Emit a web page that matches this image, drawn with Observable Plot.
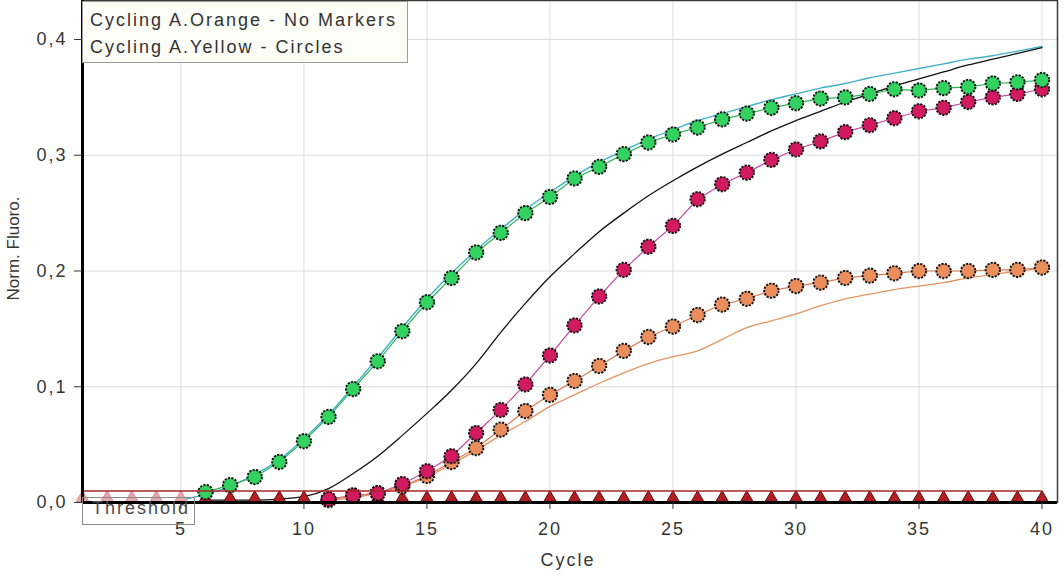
<!DOCTYPE html>
<html>
<head>
<meta charset="utf-8">
<script src="https://cdn.jsdelivr.net/npm/d3@7"></script>
<script src="https://cdn.jsdelivr.net/npm/@observablehq/plot@0.6"></script>
<style>
  html, body { margin: 0; padding: 0; background: #fff; }
  #wrap { position: relative; width: 1064px; height: 576px; overflow: hidden; font-family: "Liberation Sans", Arial, sans-serif; }
  #wrap svg { position: absolute; left: 0; top: 0; }
  .legend { position: absolute; left: 82px; top: 1px; width: 326px; height: 62px; border: 1px solid #9c9c9c;
            background: #fdfdf8; font-size: 18px; letter-spacing: 2px; color: #333; line-height: 27px;
            padding: 5px 0 0 7px; box-sizing: border-box; white-space: nowrap; }
  .thresh { position: absolute; left: 82px; top: 497px; width: 113px; height: 28px; border: 1px solid #8a8a8a;
            font-size: 18px; letter-spacing: 2px; color: #4a4a4a; line-height: 20px; padding: 0 0 0 9px;
            box-sizing: border-box; white-space: nowrap; }
</style>
</head>
<body>
<div id="wrap"></div>
<script>
// ---- data ----
const xTicks = [5, 10, 15, 20, 25, 30, 35, 40];
const yTicks = [0, 0.1, 0.2, 0.3, 0.4];
const threshold = 0.01;
const cycles = [1,2,3,4,5,6,7,8,9,10,11,12,13,14,15,16,17,18,19,20,21,22,23,24,25,26,27,28,29,30,31,32,33,34,35,36,37,38,39,40];

// Cycling A.Orange - no markers (lines)
const cyanStart = 5;
const cyanLine = [0.002,0.007,0.014,0.024,0.037,0.055,0.076,0.100,0.125,0.151,0.176,0.198,0.218,0.236,0.253,0.268,0.282,0.294,0.304,0.314,0.322,0.330,0.336,0.342,0.348,0.353,0.358,0.362,0.367,0.371,0.375,0.379,0.383,0.386,0.390,0.394];
const blackStart = 6;
const blackLine = [0.002,0.002,0.002,0.003,0.005,0.012,0.025,0.040,0.058,0.077,0.097,0.120,0.147,0.172,0.195,0.215,0.234,0.250,0.265,0.278,0.290,0.301,0.311,0.321,0.330,0.338,0.346,0.353,0.360,0.366,0.372,0.378,0.383,0.388,0.393];
const orangeLineStart = 11;
const orangeLine = [0.002,0.004,0.008,0.014,0.022,0.033,0.045,0.058,0.070,0.083,0.093,0.103,0.112,0.120,0.126,0.131,0.141,0.151,0.157,0.163,0.170,0.176,0.180,0.184,0.187,0.190,0.194,0.197,0.200,0.202];

// Cycling A.Yellow - circles
const greenStart = 6;
const greenCircles = [0.009,0.015,0.022,0.035,0.053,0.074,0.098,0.122,0.148,0.173,0.194,0.216,0.233,0.250,0.264,0.280,0.290,0.301,0.311,0.318,0.324,0.331,0.336,0.341,0.345,0.349,0.350,0.353,0.357,0.356,0.358,0.359,0.362,0.363,0.365];
const magentaStart = 11;
const magentaCircles = [0.003,0.006,0.008,0.016,0.027,0.040,0.060,0.080,0.102,0.127,0.153,0.178,0.201,0.221,0.239,0.262,0.275,0.285,0.296,0.305,0.312,0.320,0.326,0.332,0.338,0.341,0.346,0.350,0.353,0.357];
const orangeStart = 11;
const orangeCircles = [0.002,0.006,0.008,0.014,0.023,0.035,0.047,0.063,0.079,0.093,0.105,0.118,0.131,0.143,0.152,0.162,0.171,0.176,0.183,0.187,0.190,0.194,0.196,0.198,0.200,0.200,0.200,0.201,0.201,0.203];
// flat negative sample (triangles) at every cycle
const flatTriangles = [0.004,0.004,0.004,0.004,0.004,0.004,0.004,0.004,0.004,0.004,0.004,0.004,0.004,0.004,0.004,0.004,0.004,0.004,0.004,0.004,0.004,0.004,0.004,0.004,0.004,0.004,0.004,0.004,0.004,0.004,0.004,0.004,0.004,0.004,0.004,0.004,0.004,0.004,0.004,0.004];

const legendLines = ["Cycling A.Orange - No Markers", "Cycling A.Yellow - Circles"];
const xLabel = "Cycle";
const yLabel = "Norm. Fluoro.";
const thresholdLabel = "Threshold";

// ---- build tables ----
const series = (start, vals) => vals.map((v, i) => ({cycle: start + i, value: v}));
const cyan = series(cyanStart, cyanLine);
const black = series(blackStart, blackLine);
const orangeL = series(orangeLineStart, orangeLine);
const green = series(greenStart, greenCircles);
const magenta = series(magentaStart, magentaCircles);
const orangeC = series(orangeStart, orangeCircles);
const tri = cycles.map((c, i) => ({cycle: c, value: flatTriangles[i]}));

const dotStyle = {x: "cycle", y: "value", r: 7.2, stroke: "#101010", strokeWidth: 1.9, strokeDasharray: "2.2,1.3"};

const chart = Plot.plot({
  width: 1064,
  height: 576,
  marginLeft: 82,
  marginRight: 7,
  marginTop: 0,
  marginBottom: 74,
  style: {fontFamily: "Liberation Sans, Arial, sans-serif", fontSize: "18px", letterSpacing: "2px", color: "#363636", background: "transparent", overflow: "visible"},
  x: {domain: [1, 40.63]},
  y: {domain: [0, 0.4337]},
  marks: [
    Plot.gridX(xTicks, {stroke: "#dcdcdc", strokeOpacity: 1, strokeWidth: 1}),
    Plot.gridY(yTicks.filter(d => d > 0), {stroke: "#dcdcdc", strokeOpacity: 1, strokeWidth: 1}),
    Plot.line(orangeL, {x: "cycle", y: "value", stroke: "#e39462", strokeWidth: 1.3, curve: "monotone-x"}),
    Plot.line(cyan, {x: "cycle", y: "value", stroke: "#3fb2c9", strokeWidth: 1.4, curve: "monotone-x"}),
    Plot.line(black, {x: "cycle", y: "value", stroke: "#111", strokeWidth: 1.3, curve: "monotone-x"}),
    Plot.line(green, {x: "cycle", y: "value", stroke: "#2fb451", strokeWidth: 1.2}),
    Plot.line(magenta, {x: "cycle", y: "value", stroke: "#c84aa8", strokeWidth: 1.2}),
    Plot.line(orangeC, {x: "cycle", y: "value", stroke: "#e07a52", strokeWidth: 1.2}),
    Plot.dot(tri, {x: "cycle", y: "value", symbol: "triangle", r: 4.6,
      fill: d => d.cycle <= 5 ? "#e8a6ad" : "#b41e22",
      stroke: d => d.cycle <= 5 ? "#d48c94" : "#5c0c0c", strokeWidth: 1}),
    Plot.dot(orangeC, {...dotStyle, fill: "#e98e5c"}),
    Plot.dot(magenta, {...dotStyle, fill: "#d21a60"}),
    Plot.dot(green, {...dotStyle, fill: "#32d160"}),
    Plot.ruleY([threshold], {x1: cycles[0], x2: cycles[cycles.length - 1], stroke: "#a82424", strokeWidth: 1.6}),
    Plot.frame({stroke: "#3a3a3a", strokeWidth: 1.5}),
    Plot.ruleX([cycles[0]], {stroke: "#000", strokeWidth: 3}),
    Plot.ruleY([0], {stroke: "#000", strokeWidth: 3}),
    Plot.axisX(xTicks, {tickSize: 7, tickPadding: 13, tickFormat: d => String(d), label: null}),
    Plot.axisY(yTicks, {tickSize: 8, tickPadding: 7, tickFormat: d => d.toFixed(1).replace(".", ","), label: null}),
    Plot.text([xLabel], {frameAnchor: "bottom", textAnchor: "middle", lineAnchor: "middle", dy: 58, dx: -2, fontSize: 18}),
    Plot.text([yLabel], {frameAnchor: "left", textAnchor: "middle", lineAnchor: "middle", rotate: -90, dx: -69, dy: -3, fontSize: 17})
  ]
});

const wrap = document.getElementById("wrap");
wrap.appendChild(chart);
d3.select(chart).selectAll("text").filter(function() { return this.textContent === yLabel; })
  .style("letter-spacing", "0px");

const leg = document.createElement("div");
leg.className = "legend";
leg.innerHTML = legendLines.map(t => `<div>${t}</div>`).join("");
wrap.appendChild(leg);

const th = document.createElement("div");
th.className = "thresh";
th.textContent = thresholdLabel;
wrap.appendChild(th);
</script>
</body>
</html>
